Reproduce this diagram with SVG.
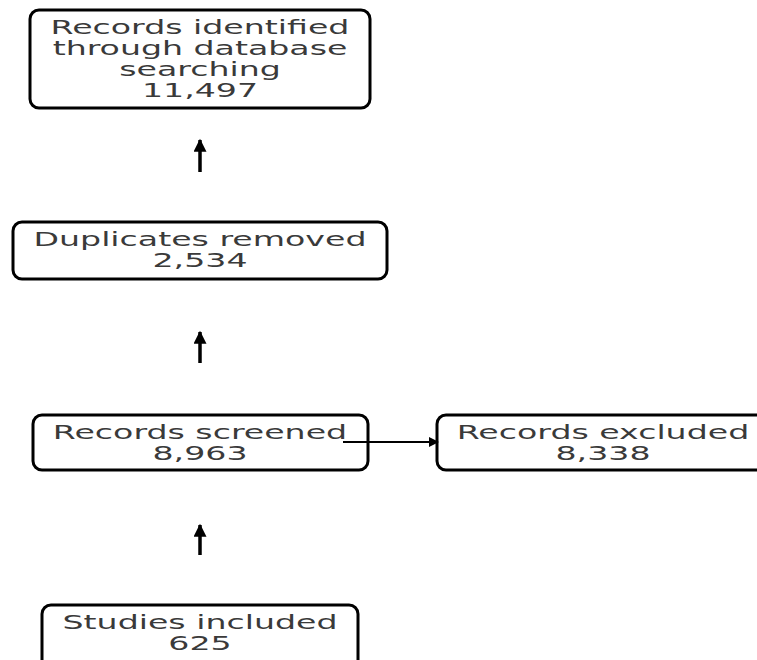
<svg xmlns="http://www.w3.org/2000/svg" width="757" height="660" viewBox="0 0 757 660">
<style>
.box{fill:#fff;stroke:#000;stroke-width:3}
.t{font-family:"DejaVu Sans",sans-serif;font-size:20px;fill:#3a3a3a;text-anchor:middle}
.c{stroke:#000;stroke-width:3.5;fill:none}
.h{stroke:#000;stroke-width:2;fill:none}
</style>
<defs>
<marker id="ah" viewBox="0 0 10 10" refX="9" refY="5" markerWidth="15" markerHeight="13" orient="auto" markerUnits="userSpaceOnUse">
<path d="M0,0 L10,5 L0,10 z" fill="#000"/>
</marker>
<marker id="ahs" viewBox="0 0 10 10" refX="9" refY="5" markerWidth="10" markerHeight="10" orient="auto" markerUnits="userSpaceOnUse">
<path d="M0,0 L10,5 L0,10 z" fill="#000"/>
</marker>
</defs>
<rect width="757" height="660" fill="#fff"/>
<g id="n1">
<rect class="box" x="30" y="10" width="340" height="98" rx="9"/>
<g transform="translate(200,0) scale(1.66,1)">
<text class="t" x="0" y="34">Records identified</text>
<text class="t" x="0" y="55">through database</text>
<text class="t" x="0" y="76">searching</text>
<text class="t" x="0" y="97">11,497</text>
</g>
</g>
<g id="n2">
<rect class="box" x="13" y="222" width="374" height="57" rx="9"/>
<g transform="translate(200,0) scale(1.66,1)">
<text class="t" x="0" y="246">Duplicates removed</text>
<text class="t" x="0" y="267">2,534</text>
</g>
</g>
<g id="n3">
<rect class="box" x="33" y="415" width="335" height="55" rx="9"/>
<g transform="translate(200,0) scale(1.66,1)">
<text class="t" x="0" y="439">Records screened</text>
<text class="t" x="0" y="460">8,963</text>
</g>
</g>
<g id="n4">
<rect class="box" x="437" y="415" width="340" height="55" rx="9"/>
<g transform="translate(603,0) scale(1.66,1)">
<text class="t" x="0" y="439">Records excluded</text>
<text class="t" x="0" y="460">8,338</text>
</g>
</g>
<g id="n5">
<rect class="box" x="42" y="605" width="316" height="65" rx="9"/>
<g transform="translate(200,0) scale(1.66,1)">
<text class="t" x="0" y="629">Studies included</text>
<text class="t" x="0" y="650">625</text>
</g>
</g>
<g id="connectors">
<line class="c" x1="200" y1="172" x2="200" y2="140" marker-end="url(#ah)"/>
<line class="c" x1="200" y1="363" x2="200" y2="332" marker-end="url(#ah)"/>
<line class="c" x1="200" y1="555" x2="200" y2="525" marker-end="url(#ah)"/>
<line class="h" x1="343" y1="442" x2="438" y2="442" marker-end="url(#ahs)"/>
</g>
</svg>
